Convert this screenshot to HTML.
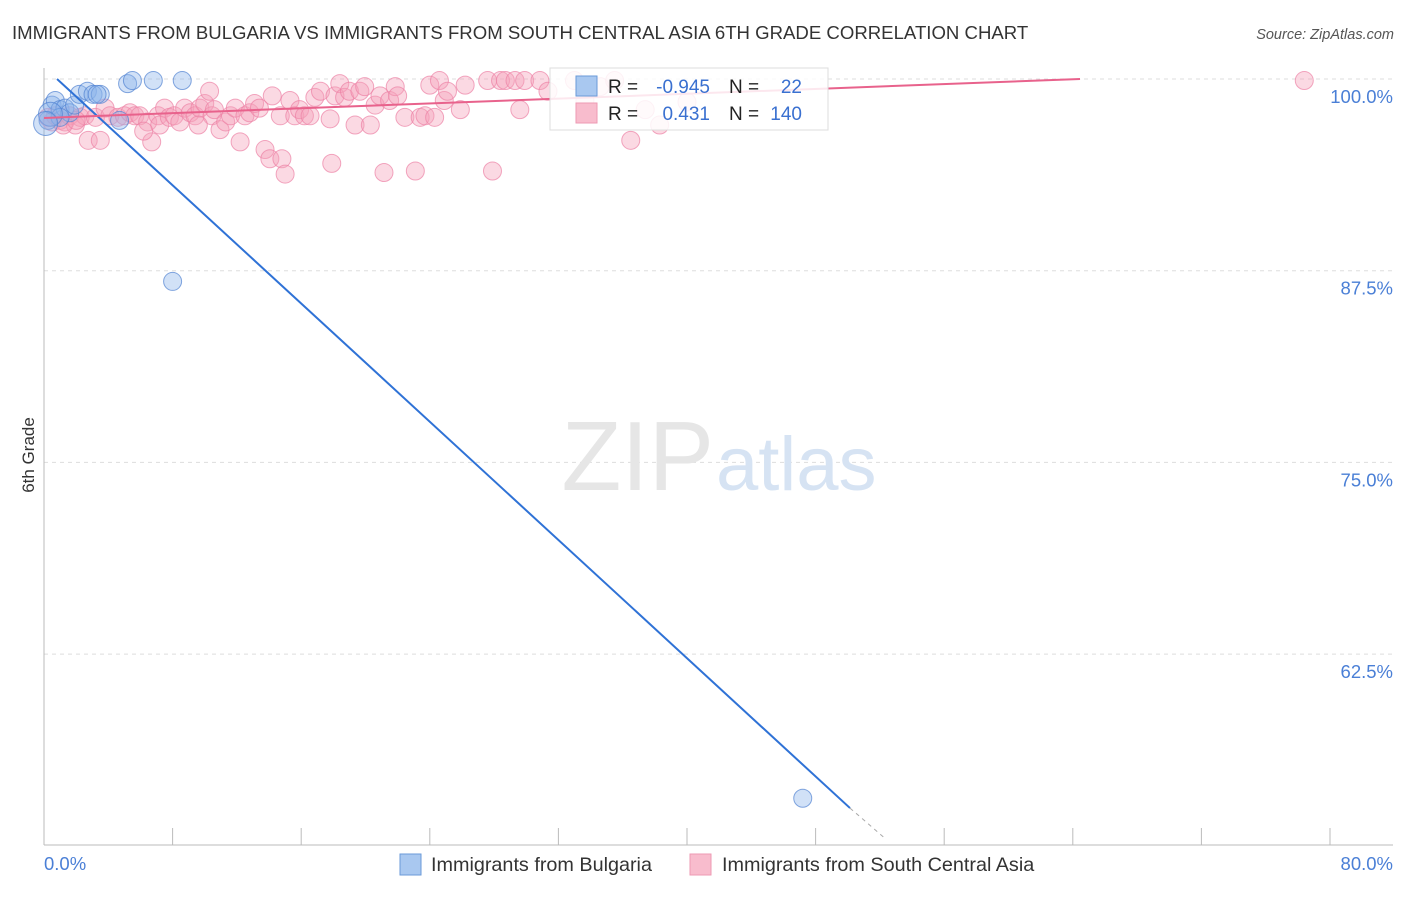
<!DOCTYPE html>
<html><head><meta charset="utf-8"><style>
body{margin:0;background:#fff;font-family:"Liberation Sans",sans-serif;}
svg text{font-family:"Liberation Sans",sans-serif;}
</style></head><body>
<svg width="1406" height="892" xmlns="http://www.w3.org/2000/svg">
<text x="12" y="39" font-size="18.6" fill="#333">IMMIGRANTS FROM BULGARIA VS IMMIGRANTS FROM SOUTH CENTRAL ASIA 6TH GRADE CORRELATION CHART</text>
<text x="1394" y="39" font-size="14.5" fill="#555" font-style="italic" text-anchor="end">Source: ZipAtlas.com</text>
<g id="grid"></g>
<text x="714" y="490" font-size="98" fill="#e6e6e6" text-anchor="end" font-family="Liberation Serif">ZIP</text>
<text x="716" y="490" font-size="76" fill="#d6e3f3">atlas</text>
<g id="axes"></g>
<g id="pts"></g>
<g id="lines"></g>
<text x="34" y="455" font-size="17" fill="#333" text-anchor="middle" transform="rotate(-90 34 455)">6th Grade</text>
<g>
<rect x="550" y="68" width="278" height="62" fill="rgba(255,255,255,0.85)" stroke="#ddd"/>
<rect x="576" y="76" width="21" height="20" fill="#a9c8f0" stroke="#6a9ad8"/>
<rect x="576" y="103" width="21" height="20" fill="#f8bccd" stroke="#ee9ab3"/>
<text x="608" y="93" font-size="19" fill="#222">R =</text><text x="710" y="93" font-size="19" fill="#3a70d0" text-anchor="end">-0.945</text>
<text x="729" y="93" font-size="19" fill="#222">N =</text><text x="802" y="93" font-size="19" fill="#3a70d0" text-anchor="end">22</text>
<text x="608" y="120" font-size="19" fill="#222">R =</text><text x="710" y="120" font-size="19" fill="#3a70d0" text-anchor="end">0.431</text>
<text x="729" y="120" font-size="19" fill="#222">N =</text><text x="802" y="120" font-size="19" fill="#3a70d0" text-anchor="end">140</text>
</g>
<g>
<rect x="400" y="854" width="21" height="21" fill="#a9c8f0" stroke="#6a9ad8"/>
<text x="431" y="871" font-size="19.8" fill="#333">Immigrants from Bulgaria</text>
<rect x="690" y="854" width="21" height="21" fill="#f8bccd" stroke="#ee9ab3"/>
<text x="722" y="871" font-size="19.8" fill="#333">Immigrants from South Central Asia</text>
</g>
</svg>
<script>
const yTicks=[100,87.5,75,62.5];
const xTickVals=[0,8,16,24,32,40,48,56,64,72,80];
const xLabels=["0.0%","80.0%"];
const blueX=[0.25,0.5,0.7,1.0,1.3,1.6,1.9,2.2,2.7,3.05,3.5,3.3,4.7,5.2,5.5,6.8,8.6,8.0,47.2,1.0,0.4,0.1];
const blueY=[97.3,98.3,98.6,98.0,98.1,97.8,98.3,99.0,99.2,99.0,99.0,99.0,97.3,99.7,99.9,99.9,99.9,86.8,53.1,97.5,97.7,97.1];
const pinkX=[0.25,0.5,0.7,1.0,1.3,1.6,1.95,2.25,2.55,2.75,3.2,3.5,3.8,4.1,4.6,5.0,5.35,5.65,5.95,6.45,6.7,7.1,7.2,7.5,7.8,8.1,8.45,8.75,9.1,9.4,9.7,10.0,10.3,10.45,10.6,10.95,11.3,11.6,11.9,12.2,12.5,12.8,13.1,13.4,13.75,14.05,14.2,14.7,14.8,15.0,15.3,15.6,15.9,16.2,16.55,16.85,17.2,17.8,17.9,18.1,18.4,18.7,19.0,19.35,19.65,19.95,20.3,20.6,20.9,21.15,21.5,21.85,22.0,22.45,23.1,23.4,23.7,24.0,24.3,24.6,24.9,25.1,25.9,26.2,27.6,27.9,28.4,28.7,29.3,29.6,29.9,30.85,31.35,33.0,33.65,34.6,35.5,36.5,37.4,38.3,40.0,78.4,1.2,2.0,6.2,9.6];
const pinkY=[97.5,97.2,97.6,97.3,97.2,97.6,97.0,97.5,97.6,96.0,97.5,96.0,98.1,97.6,97.5,97.6,97.8,97.6,97.6,97.2,95.9,97.6,97.0,98.1,97.5,97.6,97.2,98.1,97.8,97.6,98.1,98.4,99.2,97.6,98.0,96.7,97.2,97.6,98.1,95.9,97.6,97.8,98.4,98.1,95.4,94.8,98.9,97.6,94.8,93.8,98.6,97.6,98.0,97.6,97.6,98.8,99.2,97.4,94.5,98.9,99.7,98.8,99.2,97.0,99.2,99.5,97.0,98.3,98.9,93.9,98.6,99.5,98.9,97.5,94.0,97.5,97.6,99.6,97.5,99.9,98.6,99.2,98.0,99.6,99.9,94.0,99.9,99.9,99.9,98.0,99.9,99.9,99.2,99.9,98.6,99.5,99.9,96.0,98.0,97.0,98.5,99.9,97.0,97.3,96.6,97.0];
const blueLine={x:[0.81,50.14],y:[100,52.46]};
const blueDash={x:[50.14,52.3],y:[52.46,50.5]};
const pinkLine={x:[0,64.45],y:[97.46,100]};
const X0=44,X1=1330,Y100=79,PX125=191.7;
const sx=v=>X0+(v/80)*(X1-X0);
const sy=v=>Y100+(100-v)/12.5*PX125;
const NS="http://www.w3.org/2000/svg";
function mk(tag,attrs,parent){const e=document.createElementNS(NS,tag);for(const k in attrs)e.setAttribute(k,attrs[k]);parent.appendChild(e);return e;}
const grid=document.getElementById('grid'),axes=document.getElementById('axes'),pts=document.getElementById('pts'),lines=document.getElementById('lines');
yTicks.forEach(t=>{
 const l=mk('line',{x1:X0,x2:1393,y1:sy(t),y2:sy(t),stroke:'#ddd','stroke-dasharray':'4,4'},grid);
 
 
 const tx=mk('text',{x:1393,y:sy(t)+24,'font-size':18.5,fill:'#4a7fd6','text-anchor':'end'},grid);
 tx.textContent=t.toFixed(1)+'%';
 
 
});
const ax=mk('line',{x1:X0,x2:X0,y1:68,y2:845,stroke:'#bbb'},axes);


const bx=mk('line',{x1:X0,x2:1393,y1:845,y2:845,stroke:'#bbb'},axes);


xTickVals.forEach(v=>{
 const t=mk('line',{x1:sx(v),x2:sx(v),y1:828,y2:845,stroke:'#bbb'},axes);
 
 
});
const xl0=mk('text',{x:44,y:870,'font-size':18.5,fill:'#4a7fd6'},axes);xl0.textContent=xLabels[0];


const xl1=mk('text',{x:1393,y:870,'font-size':18.5,fill:'#4a7fd6','text-anchor':'end'},axes);xl1.textContent=xLabels[1];


pinkX.forEach((v,i)=>{
 const c=mk('circle',{cx:sx(v),cy:sy(pinkY[i]),r:9,fill:'rgba(246,160,185,0.4)',stroke:'rgba(236,130,165,0.7)','stroke-width':1},pts);
 
 
});
blueX.forEach((v,i)=>{
 const big=i>=20;
 const c=mk('circle',{cx:sx(v),cy:sy(blueY[i]),r:big?12:9,fill:'rgba(140,180,235,0.4)',stroke:'rgba(80,130,210,0.7)','stroke-width':1},pts);
 
 
});
const bl=mk('line',{x1:sx(blueLine.x[0]),y1:sy(blueLine.y[0]),x2:sx(blueLine.x[1]),y2:sy(blueLine.y[1]),stroke:'#2f72d6','stroke-width':2},lines);


const bd=mk('line',{x1:sx(blueDash.x[0]),y1:sy(blueDash.y[0]),x2:sx(blueDash.x[1]),y2:sy(blueDash.y[1]),stroke:'#aaa','stroke-width':1,'stroke-dasharray':'4,4'},lines);


const pl=mk('line',{x1:sx(pinkLine.x[0]),y1:sy(pinkLine.y[0]),x2:sx(pinkLine.x[1]),y2:sy(pinkLine.y[1]),stroke:'#e8628c','stroke-width':2},lines);


</script>
</body></html>
